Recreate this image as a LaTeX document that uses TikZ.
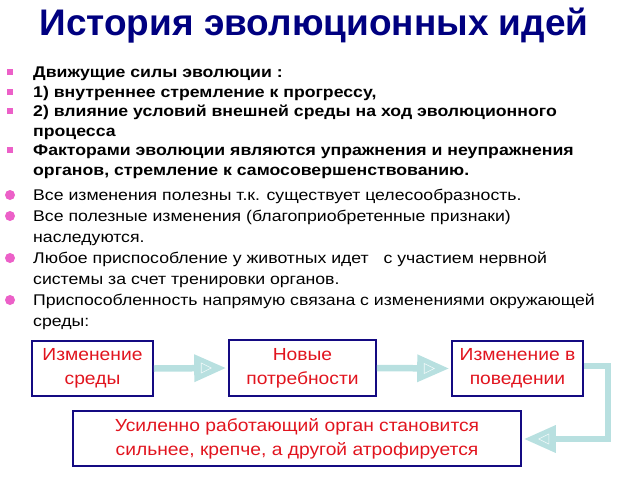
\documentclass[tikz,border=0pt]{standalone}
\usepackage{fontspec}
\setmainfont{Liberation Sans}
\newfontfamily\widefont[FakeStretch=1.14]{Liberation Sans}
\newfontfamily\boxfont[FakeStretch=1.1]{Liberation Sans}
\usetikzlibrary{arrows.meta,calc}
\definecolor{titleblue}{RGB}{0,0,128}
\definecolor{boxblue}{RGB}{20,10,130}
\definecolor{bulpink}{RGB}{236,96,200}
\definecolor{arrteal}{RGB}{184,224,224}
\definecolor{boxred}{RGB}{225,20,30}
\tikzset{
  line/.style={anchor=base west, inner sep=0pt, font=\widefont\fontsize{15.5}{18}\selectfont},
  bline/.style={line, font=\widefont\fontsize{15.5}{18}\selectfont\bfseries},
  sqbul/.style={fill=bulpink, minimum size=6pt, inner sep=0pt, draw=none},
  cbul/.style={circle, fill=bulpink, minimum size=10pt, inner sep=0pt, draw=none},
  flowbox/.style={draw=boxblue, line width=1.6pt, text=boxred, align=center,
     font=\boxfont\fontsize{17.5}{24}\selectfont, inner sep=0pt},
  flowarr/.style={draw=arrteal, line width=6.5pt,
     -{Triangle[width=26pt,length=32pt,fill=arrteal]}, shorten >=2pt},
  headmark/.style={draw=white, line width=0.6pt, opacity=0.8}
}
\begin{document}
\begin{tikzpicture}[x=1pt,y=-1pt]
\useasboundingbox (0,0) rectangle (640,480);
\node[anchor=base, inner sep=0pt, text=titleblue, font=\fontsize{37}{42}\selectfont\bfseries] (title) at (314,35) {История эволюционных идей};
% bold lines
\node[sqbul] (b1) at (10,72) {};
\node[bline] (l1) at (33,77.5) {Движущие силы эволюции :};
\node[sqbul] (b2) at (10,92) {};
\node[bline] (l2) at (33,97) {1) внутреннее стремление к прогрессу,};
\node[sqbul] (b3) at (10,111) {};
\node[bline] (l3) at (33,116.5) {2) влияние условий внешней среды на ход эволюционного};
\node[bline] (l4) at (33,136) {процесса};
\node[sqbul] (b4) at (10,150) {};
\node[bline] (l5) at (33,155.5) {Факторами эволюции являются упражнения и неупражнения};
\node[bline] (l6) at (33,175) {органов, стремление к самосовершенствованию.};
% normal lines
\node[cbul] (c1) at (10,195) {};
\node[line] (l7) at (33,200.5) {Все изменения полезны т.к. существует целесообразность.};
\node[cbul] (c2) at (10,216) {};
\node[line] (l8) at (33,221.5) {Все полезные изменения (благоприобретенные признаки)};
\node[line] (l9) at (33,242.5) {наследуются.};
\node[cbul] (c3) at (10,258) {};
\node[line] (l10) at (33,263.5) {Любое приспособление у животных идет\ \ \ с участием нервной};
\node[line] (l11) at (33,284.5) {системы за счет тренировки органов.};
\node[cbul] (c4) at (10,300) {};
\node[line] (l12) at (33,305.5) {Приспособленность напрямую связана с изменениями окружающей};
\node[line] (l13) at (33,326.5) {среды:};
% flow boxes
\node[flowbox, minimum width=121pt, minimum height=55pt] (f1) at (92.5,368.5) {Изменение\\среды};
\node[flowbox, minimum width=147pt, minimum height=56pt] (f2) at (302.5,368) {Новые\\потребности};
\node[flowbox, minimum width=131pt, minimum height=55pt] (f3) at (517.5,368.5) {Изменение в\\поведении};
\node[flowbox, minimum width=448pt, minimum height=55pt] (f4) at (297,438.5) {Усиленно работающий орган становится\\сильнее, крепче, а другой атрофируется};
% arrows
\draw[flowarr] (f1.east) -- (f2.west);
\draw[flowarr] (f2.east) -- (f3.west);
\coordinate (t1) at (608,366);
\coordinate (t2) at (608,439);
\draw[flowarr, line join=miter] (f3.east |- t1) -- (t1) -- (t2) -- (f4.east |- t2);
% small marks inside arrow heads
\draw[headmark] ($(f2.west)+(-27,-5)$) -- ++(10,5) -- ++(-10,5) -- cycle;
\draw[headmark] ($(f3.west)+(-27,-5)$) -- ++(10,5) -- ++(-10,5) -- cycle;
\draw[headmark] ($(f4.east |- t2)+(27,-5)$) -- ++(-10,5) -- ++(10,5) -- cycle;
\end{tikzpicture}
\end{document}
